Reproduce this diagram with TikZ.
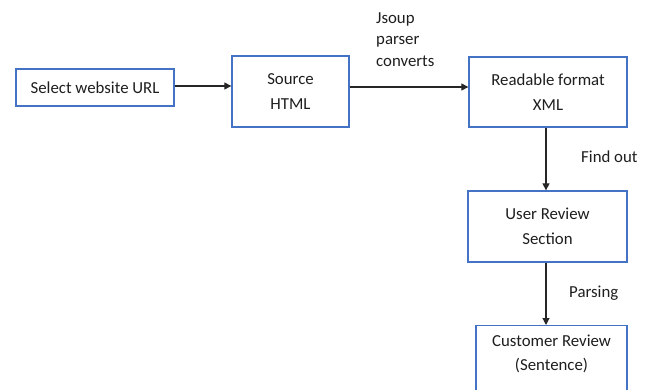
\documentclass[tikz,border=0pt]{standalone}
\usepackage{fontspec}
\setmainfont{Carlito}
\usetikzlibrary{arrows.meta}
\definecolor{boxblue}{RGB}{68,114,196}
\definecolor{txt}{RGB}{30,30,30}
\tikzset{
  flowbox/.style={draw=boxblue, line width=1.3pt, fill=white, align=center,
    text=txt, font=\fontsize{16.8}{24.5}\selectfont, inner sep=0pt},
  flow/.style={-{Triangle[length=7pt,width=7pt]}, line width=1.1pt, draw=black!85},
  note/.style={text=txt, font=\fontsize{16.8}{21.5}\selectfont, align=left, inner sep=0pt}
}
\begin{document}
\begin{tikzpicture}[x=1pt,y=-1pt]
\useasboundingbox (0,0) rectangle (651,389);
\clip (0,0) rectangle (651,389);
% process boxes
\node[flowbox, minimum width=158pt, minimum height=37pt] (url) at (95,87.5) {Select website URL};
\node[flowbox, minimum width=117pt, minimum height=71pt] (html) at (290.5,91.5) {Source\\HTML};
\node[flowbox, minimum width=158pt, minimum height=70pt] (xml) at (548,92) {Readable format\\XML};
\node[flowbox, minimum width=159pt, minimum height=71pt] (sec) at (547.5,226.5) {User Review\\Section};
\node[flowbox, minimum width=151pt, minimum height=71pt, anchor=north] (rev) at (551.5,325) {};
\node[text=txt, font=\fontsize{16.8}{24.5}\selectfont, align=center] (revtxt) at (551.5,354) {Customer Review\\(Sentence)};
% connectors
\draw[flow] (url.east |- 0,86) -- (html.west |- 0,86);
\draw[flow] (html.east |- 0,87) -- (xml.west |- 0,87);
\draw[flow] (xml.south -| 546,0) -- (sec.north -| 546,0);
\draw[flow] (sec.south -| 546,0) -- (rev.north -| 546,0);
% edge notes
\node[note, anchor=west] (jsoup) at (376,39.5) {Jsoup\\parser\\converts};
\node[note, anchor=west] (find) at (581,157) {Find out};
\node[note, anchor=west] (pars) at (569,293) {Parsing};
\end{tikzpicture}
\end{document}
